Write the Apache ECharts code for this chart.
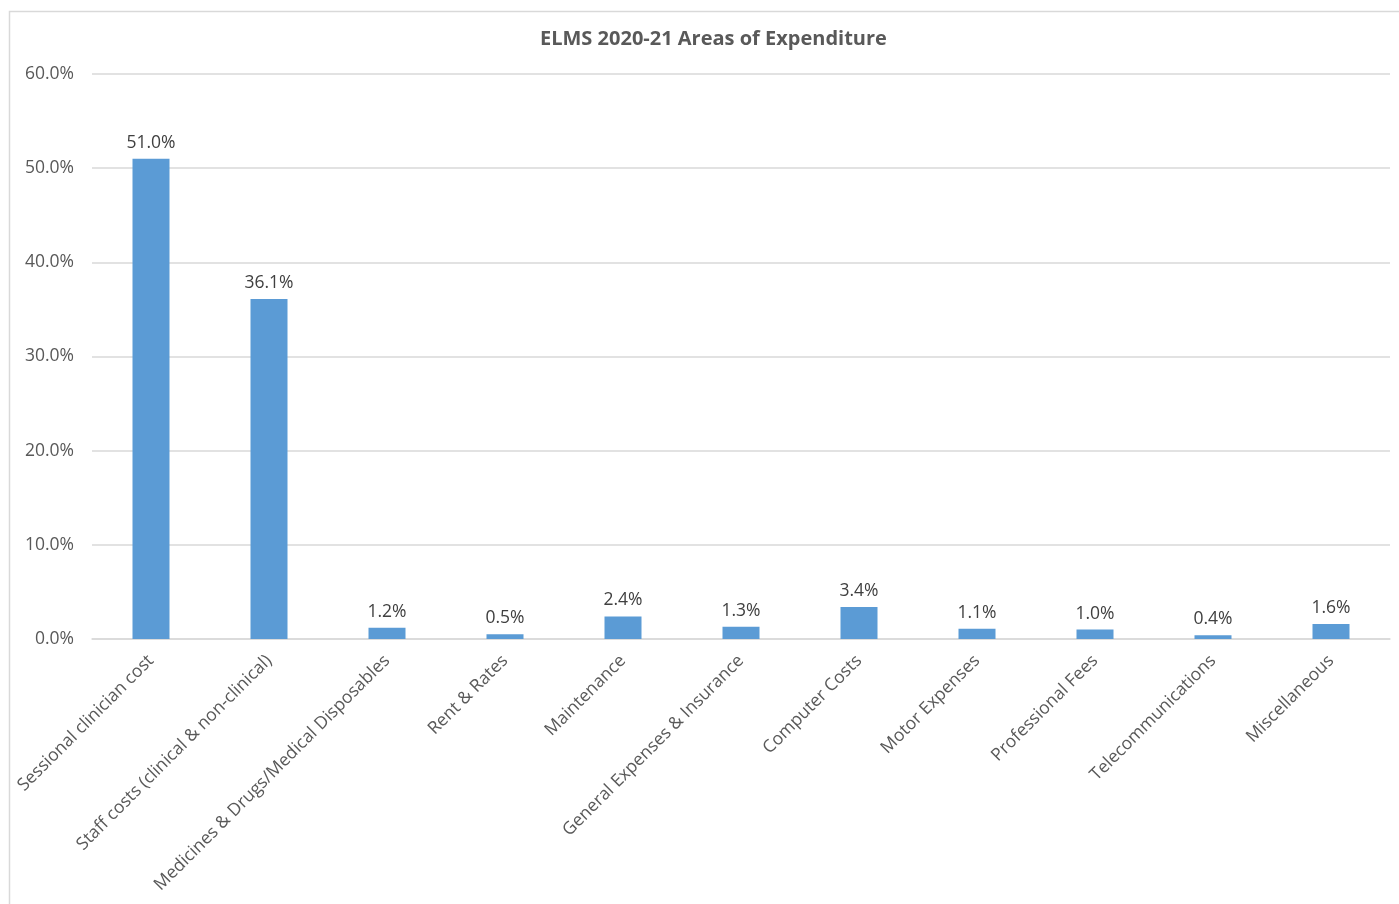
<!DOCTYPE html>
<html><head><meta charset="utf-8">
<script src="https://cdn.jsdelivr.net/npm/echarts@6/dist/echarts.min.js"></script>
<style>html,body{margin:0;padding:0;background:#fff}#c{width:1399px;height:904px}</style>
</head><body><div id="c"></div>
<script>
const categories = ["Sessional clinician cost","Staff costs (clinical & non-clinical)","Medicines & Drugs/Medical Disposables","Rent & Rates","Maintenance","General Expenses & Insurance","Computer Costs","Motor Expenses","Professional Fees","Telecommunications","Miscellaneous"];
const values = [51.0, 36.1, 1.2, 0.5, 2.4, 1.3, 3.4, 1.1, 1.0, 0.4, 1.6];
const yTicks = [0, 10, 20, 30, 40, 50, 60];
const font = "'Open Sans', 'Liberation Sans', sans-serif";
const chart = echarts.init(document.getElementById('c'));
chart.setOption({
  animation:false,
  graphic:[{type:'rect',left:7,top:9,shape:{width:1420,height:920},style:{fill:'none',stroke:'#d9d9d9',lineWidth:1.5},silent:true}],
  title:{text:'ELMS 2020-21 Areas of Expenditure',left:535,top:24,textStyle:{fontFamily:font,fontSize:20,fontWeight:'bold',color:'#595959'}},
  grid:{left:92,right:9,top:74,bottom:265,containLabel:false},
  xAxis:{type:'category',data:categories,axisLine:{lineStyle:{color:'#d9d9d9',width:1.5}},axisTick:{show:false},
    axisLabel:{rotate:45,interval:0,margin:19,fontFamily:font,fontSize:17.5,color:'#595959'}},
  yAxis:{type:'value',min:yTicks[0],max:yTicks[yTicks.length-1],interval:10,
    axisLabel:{formatter:v=>v.toFixed(1)+'%',fontFamily:font,fontSize:17.5,color:'#595959',margin:18},
    axisLine:{show:false},axisTick:{show:false},splitLine:{lineStyle:{color:'#d9d9d9',width:1.5}}},
  series:[{type:'bar',data:values,barWidth:37,itemStyle:{color:'#5b9bd5'},
    label:{show:true,position:'top',distance:7,formatter:p=>p.value.toFixed(1)+'%',fontFamily:font,fontSize:17.5,color:'#404040'}}]
});
</script></body></html>
